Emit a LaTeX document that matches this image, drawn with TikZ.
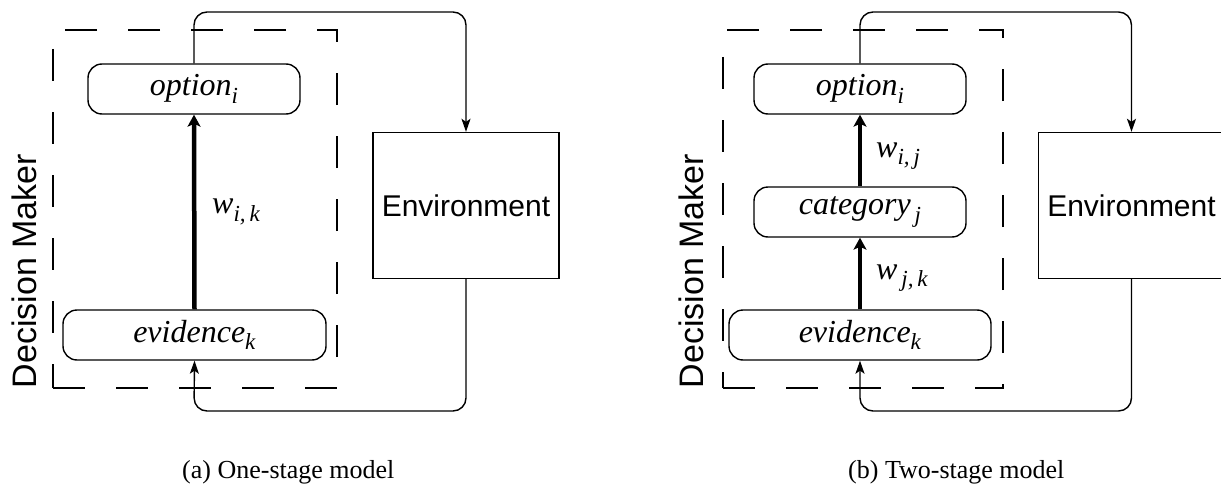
\documentclass[tikz,border=0pt]{standalone}
\usepackage{fontspec}
\setmainfont{Liberation Serif}
\newfontfamily\helv{Liberation Sans}
\usetikzlibrary{arrows.meta}
\newcommand{\lbl}[2]{\textit{#1}\raisebox{-0.24em}{\fontsize{23}{23}\selectfont\textit{#2}}}
\begin{document}
\begin{tikzpicture}[x=1pt,y=-1pt,
  rbox/.style={draw, line width=1.4pt, rounded corners=14pt, inner sep=0pt,
               minimum height=50pt, font=\fontsize{32}{36}\selectfont},
  envbox/.style={draw, line width=1.4pt, inner sep=0pt, minimum width=186pt,
               minimum height=146pt, font=\helv\fontsize{30}{36}\selectfont},
  dmbox/.style={draw, dash pattern=on 32pt off 31pt, line width=1.4pt, inner sep=0pt},
  dmlabel/.style={font=\helv\fontsize{34}{38}\selectfont, rotate=90, anchor=base},
  wlabel/.style={anchor=west, inner sep=0pt, font=\fontsize{32}{36}\selectfont},
  conn/.style={line width=1.4pt, rounded corners=13pt,
               -{Stealth[length=13pt,width=9pt,inset=3pt]}},
  warrow/.style={line width=4.5pt, -{Stealth[length=12pt,width=13pt,inset=3pt]}},
  capt/.style={anchor=base west, inner sep=0pt, font=\fontsize{26}{30}\selectfont}
]
\useasboundingbox (0,0) rectangle (1221,487);
\clip (0,0) rectangle (1221,487);

% ---------- panel (a) ----------
\node[dmbox, minimum width=284pt, minimum height=358pt] (dmA) at (195,209) {};
\node[rbox, minimum width=212pt] (optA) at (194,89) {\lbl{option}{i}};
\node[rbox, minimum width=263pt] (evA) at (194.5,335) {\lbl{evidence}{k}};
\node[envbox] (envA) at (466,205.5) {Environment};
\node[dmlabel] (dmlA) at (36,271) {Decision Maker};
\node[wlabel] (wA) at (212,212) {\lbl{w}{i,\,k}};
\draw[warrow] (evA.north) -- (optA.south);
\coordinate (topA) at (194,12);
\coordinate (botA) at (194,411);
\draw[conn] (optA.north) -- (topA) -- (topA -| envA.north) -- (envA.north);
\draw[conn] (envA.south) -- (envA.south |- botA) -- (botA) -- (evA.south);
\node[capt] (capA) at (182,478) {(a) One-stage model};

% ---------- panel (b) ----------
\node[dmbox, minimum width=280pt, minimum height=358pt] (dmB) at (863,209) {};
\node[rbox, minimum width=212pt] (optB) at (860,89) {\lbl{option}{i}};
\node[rbox, minimum width=212pt] (catB) at (860,212) {\lbl{category}{\,j}};
\node[rbox, minimum width=262pt] (evB) at (860,335) {\lbl{evidence}{k}};
\node[envbox] (envB) at (1131.5,205.5) {Environment};
\node[dmlabel] (dmlB) at (703,271) {Decision Maker};
\node[wlabel] (wB1) at (876,156) {\lbl{w}{i,\,j}};
\node[wlabel] (wB2) at (876,278) {\lbl{w}{\,j,\,k}};
\draw[warrow] (catB.north) -- (optB.south);
\draw[warrow] (evB.north) -- (catB.south);
\coordinate (topB) at (860,12);
\coordinate (botB) at (860,411);
\draw[conn] (optB.north) -- (topB) -- (topB -| envB.north) -- (envB.north);
\draw[conn] (envB.south) -- (envB.south |- botB) -- (botB) -- (evB.south);
\node[capt] (capB) at (848,478) {(b) Two-stage model};
\end{tikzpicture}
\end{document}
